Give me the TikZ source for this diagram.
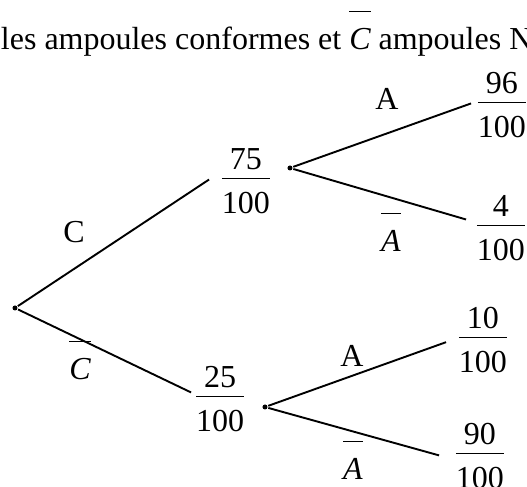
\documentclass[tikz,border=0pt]{standalone}
\usepackage{amsmath}
\usepackage{fontspec}
\setmainfont{Liberation Serif}
\usetikzlibrary{arrows.meta}
\newcommand{\barre}[1]{\ensuremath{\overline{\rule{0pt}{1.06em}\smash{\textit{#1}}}}}
\newcommand{\fr}[2]{$\dfrac{\raisebox{-3pt}{#1}}{\raisebox{-1.5pt}{#2}}$}

\begin{document}
\begin{tikzpicture}[x=0.5pt,y=-0.5pt,line width=0.95pt,font=\fontsize{16}{19}\selectfont,
  frac/.style={inner sep=0pt,anchor=base},
  lab/.style={inner sep=0pt,anchor=base},
  dot/.style={circle,fill,inner sep=0pt,minimum size=2.5pt}]
\useasboundingbox (0,0) rectangle (527,487);
\node[lab,anchor=base west] (titre) at (0,50) {les ampoules conformes et \barre{C} ampoules N};
% racine et noeuds
\node[dot] (r) at (15,308) {};
\node[dot] (d1) at (290,168) {};
\node[dot] (d2) at (265,407) {};
\node[frac] (f75) at (246,187) {\fr{75}{100}};
\node[frac] (f25) at (220,405) {\fr{25}{100}};
\node[frac] (f96) at (502,111) {\fr{96}{100}};
\node[frac] (f4) at (501,234) {\fr{4}{100}};
\node[frac] (f10) at (483,346) {\fr{10}{100}};
\node[frac] (f90) at (480,462) {\fr{90}{100}};
% branches
\draw (r)--([xshift=-4.8pt,yshift=0.9pt]f75.west)
      (r)--([xshift=-0.8pt,yshift=3.4pt]f25.west);
\draw (d1)--([xshift=-1.8pt,yshift=0.9pt]f96.west)
      (d1)--([xshift=-3.8pt,yshift=4.4pt]f4.west);
\draw (d2)--([xshift=-4.8pt,yshift=-1pt]f10.west)
      (d2)--([xshift=-6.8pt,yshift=0.4pt]f90.west);
% etiquettes
\node[lab] (lC) at (74,243) {C};
\node[lab] (lCb) at (80,380) {\barre{C}};
\node[lab] (lA1) at (387,110) {A};
\node[lab] (lAb1) at (391,252) {\barre{A}};
\node[lab] (lA2) at (352,367) {A};
\node[lab] (lAb2) at (353,480) {\barre{A}};
\end{tikzpicture}
\end{document}
